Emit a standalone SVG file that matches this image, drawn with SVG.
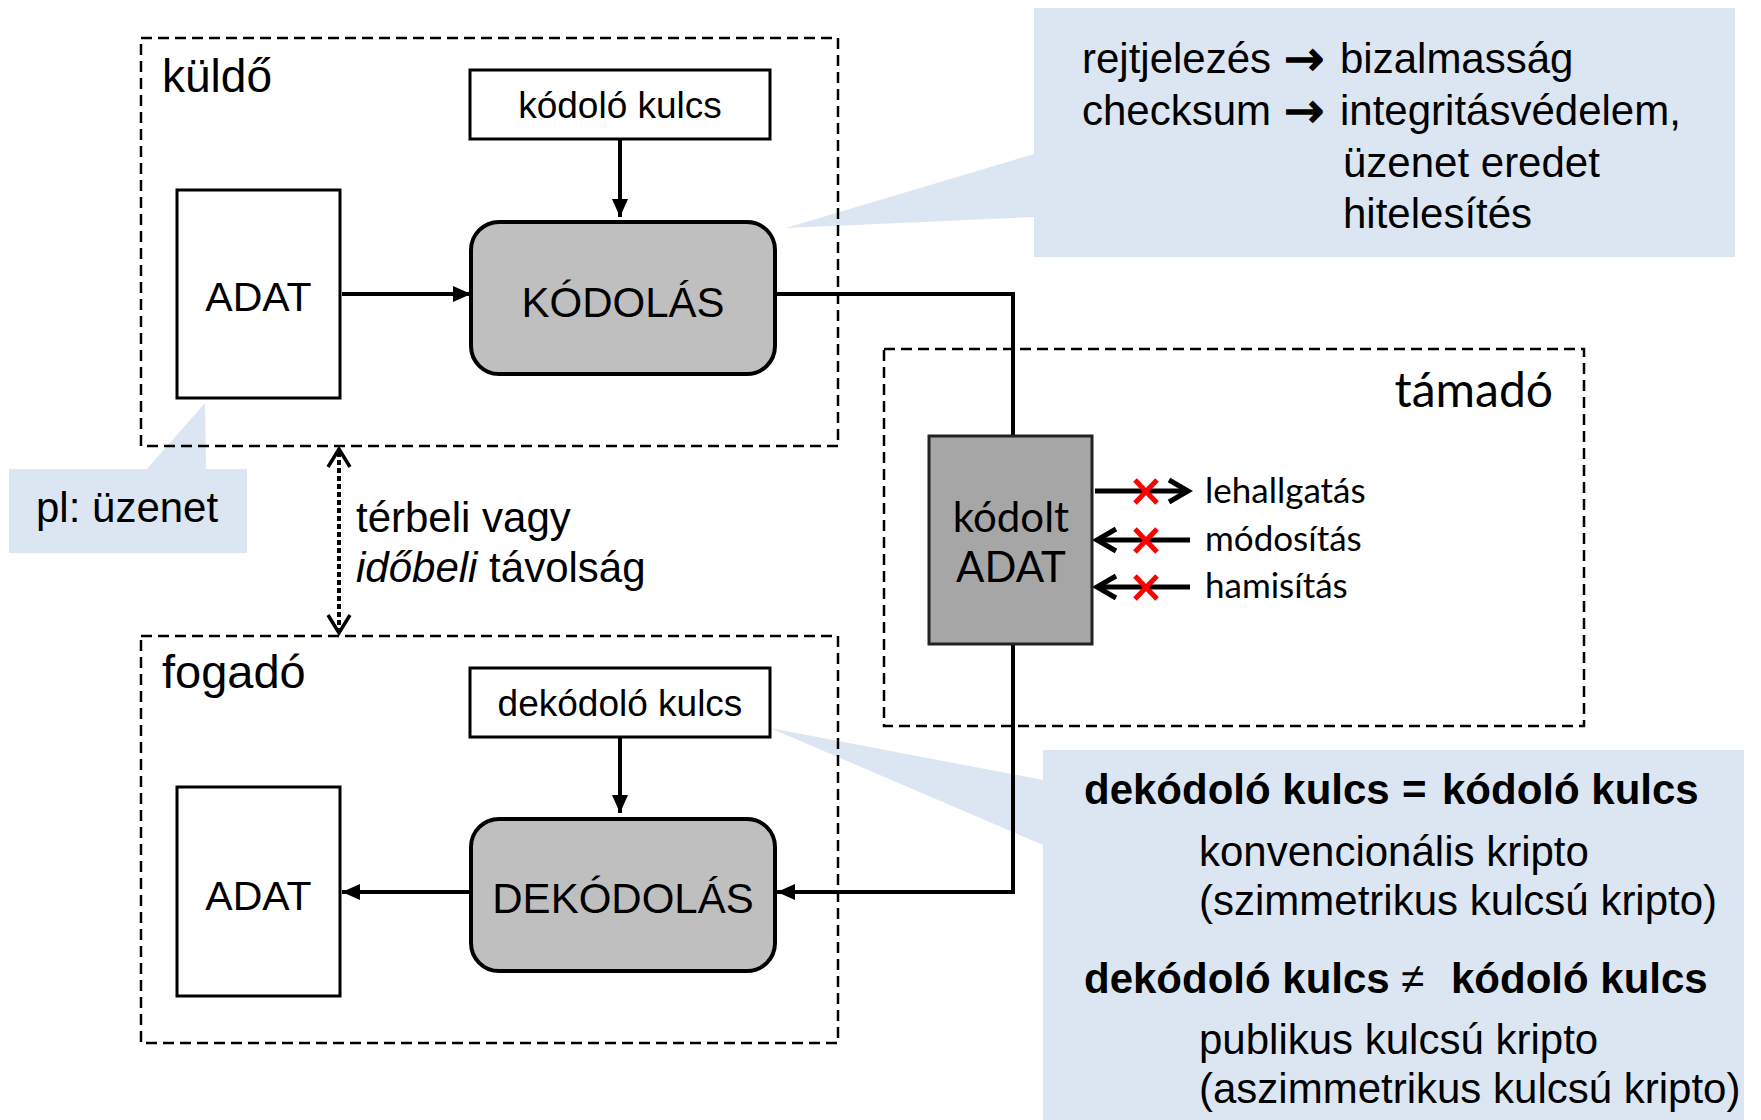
<svg xmlns="http://www.w3.org/2000/svg" width="1761" height="1120" viewBox="0 0 1761 1120">
  <style>
    .t { font-family: "Liberation Sans", Arial, sans-serif; fill: #000; }
    .c { font-family: Lato, "Noto Sans", sans-serif; fill: #000; }
    .arr { font-family: "DejaVu Sans", sans-serif; font-size: 48px; stroke: #000; stroke-width: 1.6; }
    .callout { fill: #dce6f2; stroke: none; }
    .zone { fill: none; stroke: #000; stroke-width: 2.5; stroke-dasharray: 11 6; }
    .plain { fill: #fff; stroke: #000; stroke-width: 3; }
    .proc { fill: #bfbfbf; stroke: #000; stroke-width: 4; }
    .wire { fill: none; stroke: #000; stroke-width: 4; }
    .attack { fill: none; stroke: #000; stroke-width: 5; }
    .cross { stroke: #ff0000; stroke-width: 5; }
  </style>
  <defs>
    <marker id="head" markerUnits="userSpaceOnUse" markerWidth="18" markerHeight="16" refX="18" refY="8" orient="auto">
      <path d="M0,0 L18,8 L0,16 Z" fill="#000"/>
    </marker>
  </defs>

  <rect width="1761" height="1120" fill="#fff"/>

  <!-- callouts (drawn below the boxes) -->
  <g id="callout-purpose">
    <path class="callout" d="M1034,8 H1735 V257 H1034 V217 L786,228 L1034,154 Z"/>
    <text class="t" font-size="42" x="1082" y="73">rejtjelezés<tspan class="arr" x="1284" y="75">→</tspan><tspan x="1340" y="73">bizalmasság</tspan></text>
    <text class="t" font-size="42" x="1082" y="125">checksum<tspan class="arr" x="1284" y="127">→</tspan><tspan x="1340" y="125">integritásvédelem,</tspan></text>
    <text class="t" font-size="42" x="1343" y="177">üzenet eredet</text>
    <text class="t" font-size="42" x="1343" y="228">hitelesítés</text>
  </g>
  <g id="callout-example">
    <path class="callout" d="M9,469 H147 L205,403 L206,469 H247 V553 H9 Z"/>
    <text class="t" font-size="42" x="36" y="522">pl: üzenet</text>
  </g>
  <g id="callout-keys">
    <path class="callout" d="M1043,750 H1744 V1120 H1043 V845 L770,728 L1043,780 Z"/>
    <text class="t" font-size="42" font-weight="bold" x="1084" y="804">dekódoló kulcs<tspan x="1402">=</tspan><tspan x="1442">kódoló kulcs</tspan></text>
    <text class="t" font-size="42" x="1199" y="866">konvencionális kripto</text>
    <text class="t" font-size="42" x="1199" y="915">(szimmetrikus kulcsú kripto)</text>
    <text class="t" font-size="42" font-weight="bold" x="1084" y="993">dekódoló kulcs<tspan x="1401" font-weight="normal">≠</tspan><tspan x="1451">kódoló kulcs</tspan></text>
    <text class="t" font-size="42" x="1199" y="1054">publikus kulcsú kripto</text>
    <text class="t" font-size="42" x="1199" y="1103">(aszimmetrikus kulcsú kripto)</text>
  </g>

  <!-- dashed zones -->
  <g id="zone-sender">
    <rect class="zone" x="141" y="38" width="697" height="408"/>
    <text class="t" font-size="46" x="162" y="92">küldő</text>
  </g>
  <g id="zone-receiver">
    <rect class="zone" x="141" y="636" width="697" height="407"/>
    <text class="t" font-size="47" x="162" y="688">fogadó</text>
  </g>
  <g id="zone-attacker">
    <rect class="zone" x="884" y="349" width="700" height="377"/>
    <text class="c" font-size="48" x="1553" y="407" text-anchor="end">támadó</text>
  </g>

  <!-- connectors -->
  <g id="connectors">
    <line class="wire" x1="620" y1="139" x2="620" y2="217" marker-end="url(#head)"/>
    <line class="wire" x1="342" y1="294" x2="471" y2="294" marker-end="url(#head)"/>
    <polyline class="wire" points="775,294 1013,294 1013,436"/>
    <polyline class="wire" points="1013,644 1013,892 777,892" marker-end="url(#head)"/>
    <line class="wire" x1="620" y1="737" x2="620" y2="813" marker-end="url(#head)"/>
    <line class="wire" x1="471" y1="892" x2="342" y2="892" marker-end="url(#head)"/>
    <!-- distance between the two parties -->
    <line x1="339" y1="452" x2="339" y2="629" stroke="#000" stroke-width="4" stroke-dasharray="5 3"/>
    <polyline points="328,467 339,449 350,467" fill="none" stroke="#000" stroke-width="3.5"/>
    <polyline points="328,615 339,633 350,615" fill="none" stroke="#000" stroke-width="3.5"/>
    <!-- blocked attacks -->
    <line class="attack" x1="1095" y1="491" x2="1186" y2="491"/>
    <polyline class="attack" points="1169,480 1188,491 1169,502"/>
    <line class="attack" x1="1190" y1="540" x2="1099" y2="540"/>
    <polyline class="attack" points="1116,529 1097,540 1116,551"/>
    <line class="attack" x1="1190" y1="587" x2="1099" y2="587"/>
    <polyline class="attack" points="1116,576 1097,587 1116,598"/>
    <g class="cross">
      <line x1="1135" y1="480" x2="1157" y2="503"/><line x1="1157" y1="480" x2="1135" y2="503"/>
      <line x1="1135" y1="529" x2="1157" y2="552"/><line x1="1157" y1="529" x2="1135" y2="552"/>
      <line x1="1135" y1="576" x2="1157" y2="599"/><line x1="1157" y1="576" x2="1135" y2="599"/>
    </g>
  </g>
  <g id="attack-labels">
    <text class="c" font-size="35" x="1205" y="503">lehallgatás</text>
    <text class="c" font-size="35" x="1205" y="551">módosítás</text>
    <text class="c" font-size="35" x="1205" y="598">hamisítás</text>
  </g>

  <!-- nodes -->
  <g id="enc-key">
    <rect class="plain" x="470" y="70" width="300" height="69"/>
    <text class="t" font-size="37" x="620" y="118" text-anchor="middle">kódoló kulcs</text>
  </g>
  <g id="data-in">
    <rect class="plain" x="177" y="190" width="163" height="208"/>
    <text class="t" font-size="41" x="258.5" y="311" text-anchor="middle">ADAT</text>
  </g>
  <g id="encode">
    <rect class="proc" x="471" y="222" width="304" height="152" rx="28"/>
    <text class="t" font-size="42" x="623" y="317" text-anchor="middle">KÓDOLÁS</text>
  </g>
  <g id="cipher">
    <rect x="929" y="436" width="163" height="208" fill="#a6a6a6" stroke="#222" stroke-width="3"/>
    <text class="c" font-size="42" x="1011" y="532" text-anchor="middle">kódolt</text>
    <text class="c" font-size="42" x="1011" y="582" text-anchor="middle">ADAT</text>
  </g>
  <g id="dec-key">
    <rect class="plain" x="470" y="668" width="300" height="69"/>
    <text class="t" font-size="37" x="620" y="716" text-anchor="middle">dekódoló kulcs</text>
  </g>
  <g id="decode">
    <rect class="proc" x="471" y="819" width="304" height="152" rx="28"/>
    <text class="t" font-size="42" x="623" y="913" text-anchor="middle">DEKÓDOLÁS</text>
  </g>
  <g id="data-out">
    <rect class="plain" x="177" y="787" width="163" height="209"/>
    <text class="t" font-size="41" x="258.5" y="910" text-anchor="middle">ADAT</text>
  </g>

  <g id="distance-label">
    <text class="t" font-size="42" x="356" y="532">térbeli vagy</text>
    <text class="t" font-size="42" x="356" y="582"><tspan font-style="italic">időbeli</tspan> távolság</text>
  </g>
</svg>
